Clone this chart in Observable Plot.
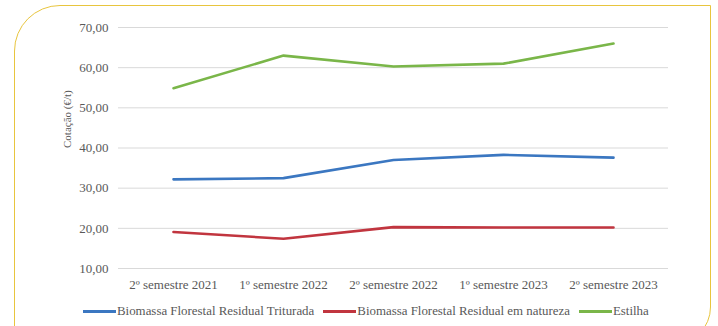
<!DOCTYPE html>
<html>
<head>
<meta charset="utf-8">
<script src="https://cdn.jsdelivr.net/npm/d3@7"></script>
<script src="https://cdn.jsdelivr.net/npm/@observablehq/plot@0.6"></script>
<style>
  html, body { margin: 0; padding: 0; background: #fff; }
  #wrap { position: relative; width: 718px; height: 326px; overflow: hidden; font-family: "Liberation Serif", "DejaVu Serif", serif; }
  #frame { position: absolute; left: 14px; top: 5px; width: 697px; height: 340px; border: 1.6px solid #e8c53e; border-radius: 46px 0 38px 0; box-sizing: border-box; }
  #chart { position: absolute; left: 0; top: 0; }
  #legend { position: absolute; top: 304px; left: 83px; display: flex; align-items: center; font-size: 12.9px; color: #595959; white-space: nowrap; }
  .item { display: flex; align-items: center; margin-right: 9px; }
  .sw { width: 33px; height: 2.5px; margin-right: 1px; }
</style>
</head>
<body>
<div id="wrap">
  <div id="frame"></div>
  <div id="chart"></div>
  <div id="legend"></div>
</div>
<script>
const categories = ["2º semestre 2021", "1º semestre 2022", "2º semestre 2022", "1º semestre 2023", "2º semestre 2023"];
const triturada = [32.2, 32.5, 37.0, 38.3, 37.6];
const natureza = [19.1, 17.4, 20.3, 20.2, 20.2];
const estilha = [54.9, 63.0, 60.3, 61.0, 66.0];
const seriesNames = ["Biomassa Florestal Residual Triturada", "Biomassa Florestal Residual em natureza", "Estilha"];
const seriesColors = ["#3b77c1", "#c1353f", "#7ab649"];
const yTicks = [10, 20, 30, 40, 50, 60, 70];

const allSeries = [triturada, natureza, estilha];
const data = [];
allSeries.forEach((vals, si) => vals.forEach((v, i) => data.push({cat: categories[i], value: v, series: seriesNames[si]})));

const fmt = v => v.toFixed(2).replace(".", ",");

const chart = Plot.plot({
  width: 718,
  height: 295,
  marginTop: 27,
  marginBottom: 27,
  marginLeft: 118,
  marginRight: 50,
  style: { fontFamily: "Liberation Serif, serif", fontSize: "13px", color: "#595959", background: "transparent" },
  x: { type: "point", domain: categories, padding: 0.5, label: null },
  y: { domain: [10, 70], ticks: yTicks, label: null },
  color: { domain: seriesNames, range: seriesColors },
  marks: [
    Plot.gridY(yTicks, { stroke: "#d9d9d9", strokeOpacity: 1, strokeWidth: 1 }),
    Plot.axisY(yTicks, { tickSize: 0, tickPadding: 10, tickFormat: fmt, label: null }),
    Plot.axisX({ tickSize: 0, tickPadding: 11, label: null }),
    Plot.lineY(data, { x: "cat", y: "value", stroke: "series", z: "series", strokeWidth: 2.6, curve: "linear" }),
    Plot.text(["Cotação (€/t)"], { frameAnchor: "left", dx: -51, rotate: -90, fontSize: 11, fill: "#595959" })
  ]
});
document.getElementById("chart").appendChild(chart);

const legend = document.getElementById("legend");
seriesNames.forEach((n, i) => {
  const it = document.createElement("div");
  it.className = "item";
  const sw = document.createElement("div");
  sw.className = "sw";
  sw.style.background = seriesColors[i];
  const t = document.createElement("span");
  t.textContent = n;
  it.appendChild(sw); it.appendChild(t);
  legend.appendChild(it);
});
</script>
</body>
</html>
